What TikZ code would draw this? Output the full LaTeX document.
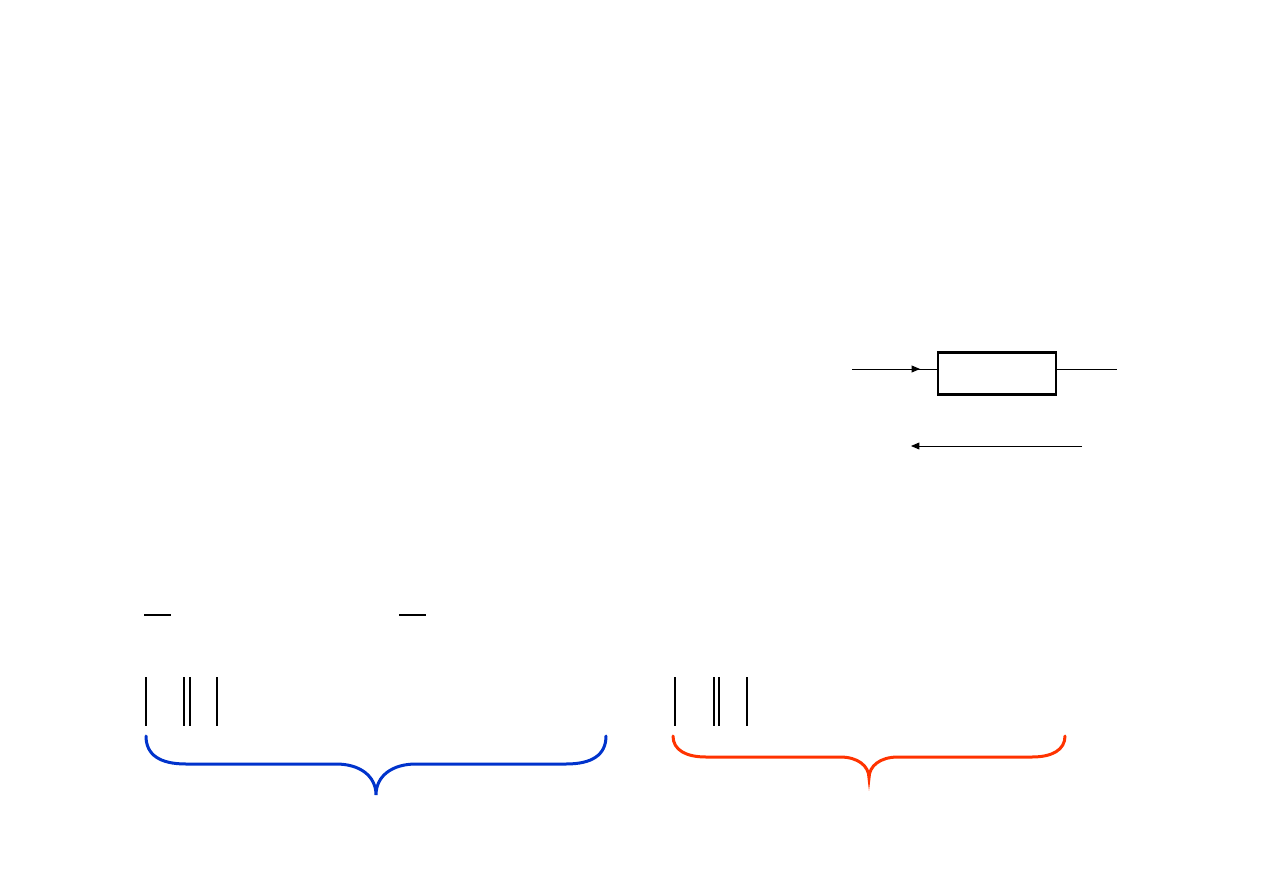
\documentclass[tikz,border=0pt]{standalone}
\usetikzlibrary{arrows,positioning}
\definecolor{accoBleu}{RGB}{0,51,204}
\definecolor{accoRouge}{RGB}{255,51,0}
\tikzset{bloc/.style={draw,line width=2.4pt,minimum width=118pt,minimum height=42pt,inner sep=0pt},
         fil/.style={line width=0.9pt},
         fleche/.style={line width=0.9pt,-triangle 45},
         barre/.style={line width=1.8pt},
         accolade/.style={line width=3pt,line cap=round}}
\begin{document}
\begin{tikzpicture}[x=1pt,y=-1pt]
\useasboundingbox (0,0) rectangle (1263,893);
% le bloc
\node[bloc] (B) at (997,373.5) {};
\coordinate (E) at (852,369);
\coordinate (Em) at (886,369);
\coordinate (S) at (1117,369);
\draw[fil] (E) -- (B.west |- E);
\draw[fleche] (Em) -- (920,369);
\draw[fil] (B.east |- S) -- (S);
% retour
\coordinate (R1) at (1082,446);
\coordinate (R2) at (911,446);
\draw[fleche] (R1) -- (R2);
% les barres
\draw[barre] (144,615) -- (171,615);
\draw[barre] (399,615) -- (426,615);
\foreach \x/\w in {146/1.6,184/1.8,190/1.8,217/1.8,675/1.1,714/1.8,719/1.8,747/1.8}
  \draw[line width=\w pt] (\x,677) -- (\x,726);
% les accolades
\draw[accolade,accoBleu] (146,736) .. controls (146,755) and (160,764) .. (186,764)
  -- (336,764) .. controls (360,764) and (376,776) .. (376,795)
  .. controls (376,776) and (392,764) .. (416,764) -- (566,764)
  .. controls (592,764) and (606,755) .. (606,736);
\draw[accoRouge,accolade] (673,736) .. controls (673,750) and (686,757) .. (706,757)
  -- (840,757) .. controls (858,757) and (869,766) .. (869,778)
  .. controls (869,766) and (880,757) .. (898,757) -- (1032,757)
  .. controls (1052,757) and (1065,750) .. (1065,736);
\end{tikzpicture}
\end{document}
